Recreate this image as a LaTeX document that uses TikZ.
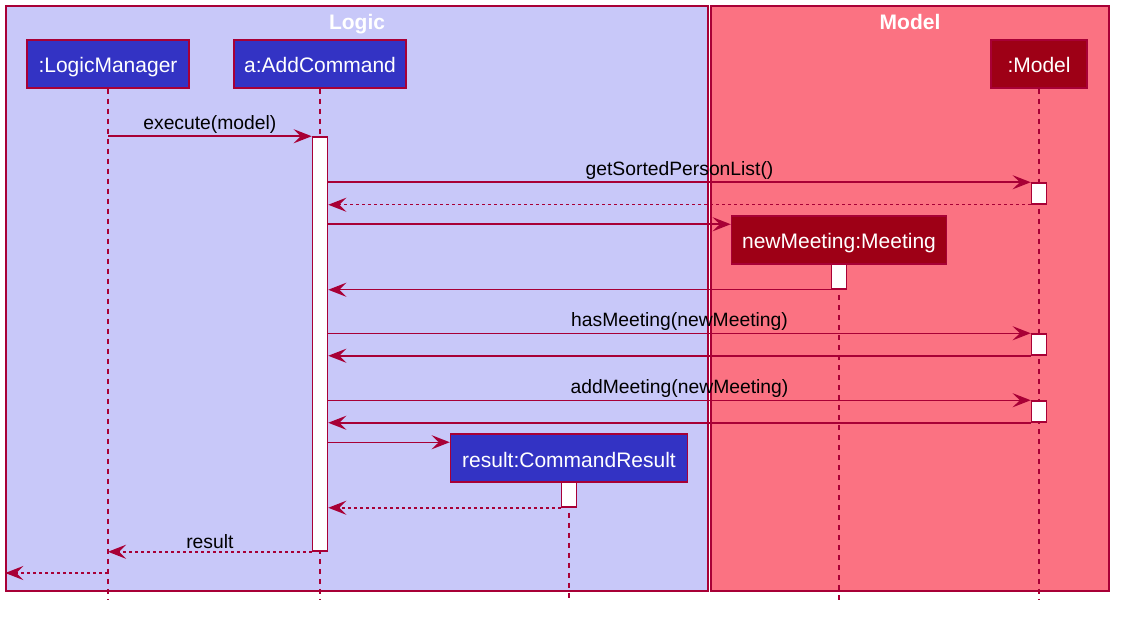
\documentclass[tikz,border=0pt]{standalone}
\usepackage{fontspec}
\setmainfont{Liberation Sans}
\usetikzlibrary{arrows.meta,positioning,calc}
\definecolor{umlborder}{HTML}{A80036}
\definecolor{logicfill}{HTML}{C8C8F9}
\definecolor{modelfill}{HTML}{FB7282}
\definecolor{blueobj}{HTML}{3333C4}
\definecolor{redobj}{HTML}{9E0016}

\begin{document}
\begin{tikzpicture} [x=1pt, y=-1pt, line width=1.5pt,
    group/.style={draw=umlborder, minimum height=585, inner sep=0},
    grouptitle/.style={text=white, font=\fontsize{21}{25}\selectfont\bfseries, below=5pt},
    objbox/.style={draw=umlborder, text=white, minimum height=48, inner sep=0,
      text height=18pt, text depth=0pt, font=\fontsize{21}{25}\selectfont},
    logicobj/.style={objbox, fill=blueobj},
    modelobj/.style={objbox, fill=redobj},
    act/.style={draw=umlborder, fill=white, minimum width=15, inner sep=0},
    lifeline/.style={draw=umlborder, dash pattern=on 5pt off 5pt},
    msg/.style={draw=umlborder, -{Stealth[length=18pt,width=14pt,inset=7pt]}},
    reply/.style={msg, dash pattern=on 3pt off 3pt},
    lbl/.style={font=\fontsize{19.3}{23}\selectfont, text=black, above=0pt, inner sep=2pt}]
  \useasboundingbox (0,0) rectangle (1123,617);

  % boxes
  \node[group, fill=logicfill, minimum width=702] (logic) at (357,298.5) {};
  \node[group, fill=modelfill, minimum width=398] (model) at (910,298.5) {};
  \node[grouptitle] at (logic.north) {Logic};
  \node[grouptitle] at (model.north) {Model};

  % participants
  \node[logicobj, minimum width=162] (lm) at (108,64) {:LogicManager};
  \node[logicobj, minimum width=172] (ac) at (320,64) {a:AddCommand};
  \node[modelobj, minimum width=96] (md) at (1039,64) {:Model};
  \node[modelobj, minimum width=215] (mt) at (839,240) {newMeeting:Meeting};
  \node[logicobj, minimum width=237] (cr) at (569,458) {result:CommandResult};

  % lifelines
  \draw[lifeline] (lm.south) -- (lm |- 0,600);
  \draw[lifeline] (ac.south) -- (ac |- 0,600);
  \draw[lifeline] (md.south) -- (md |- 0,600);
  \draw[lifeline] (mt.south) -- (mt |- 0,600);
  \draw[lifeline] (cr.south) -- (cr |- 0,600);

  % activations
  \node[act, minimum height=414] (aca) at (320,344) {};
  \node[act, minimum height=21] (mda1) at (1039,193.5) {};
  \node[act, minimum height=25] (mta) at (839,276.5) {};
  \node[act, minimum height=21] (mda2) at (1039,344.5) {};
  \node[act, minimum height=21] (mda3) at (1039,411.5) {};
  \node[act, minimum height=25] (cra) at (569,494.5) {};
  \coordinate (mtin) at ([yshift=-9pt]mt.north west);
  \coordinate (crin) at ([yshift=-9pt]cr.north west);
  \coordinate (exit) at (logic.west |- 0,573);

  % messages
  \draw[msg] (lm |- aca.north) -- node[lbl] {execute(model)} (aca.north west);
  \draw[msg] (aca.east |- mda1.north) -- node[lbl] {getSortedPersonList()} (mda1.north west);
  \draw[reply] (mda1.south west) -- (aca.east |- mda1.south);
  \draw[msg] (aca.east |- mtin) -- (mtin);
  \draw[msg] (mta.south west) -- (aca.east |- mta.south);
  \draw[msg] (aca.east |- mda2.north) -- node[lbl] {hasMeeting(newMeeting)} (mda2.north west);
  \draw[msg] (mda2.south west) -- (aca.east |- mda2.south);
  \draw[msg] (aca.east |- mda3.north) -- node[lbl] {addMeeting(newMeeting)} (mda3.north west);
  \draw[msg] (mda3.south west) -- (aca.east |- mda3.south);
  \draw[msg] (aca.east |- crin) -- (crin);
  \draw[reply] (cra.south west) -- (aca.east |- cra.south);
  \draw[reply] (aca.south west) -- node[lbl] {result} (lm |- aca.south);
  \draw[reply] (lm |- exit) -- (exit);
\end{tikzpicture}
\end{document}
